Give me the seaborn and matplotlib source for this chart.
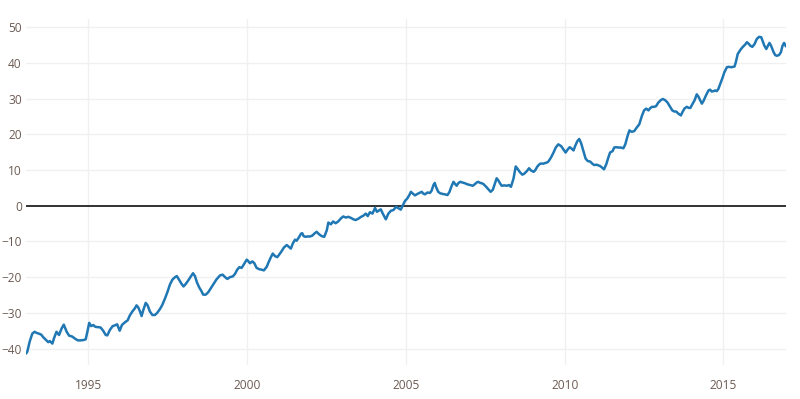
import matplotlib
matplotlib.use("Agg")
import matplotlib.pyplot as plt
import seaborn as sns
import pandas as pd

years = [
    1993.04, 1993.08, 1993.16, 1993.24, 1993.31, 1993.37, 1993.44, 1993.52, 1993.58, 1993.67,
    1993.74, 1993.79, 1993.87, 1993.93, 1994.00, 1994.08, 1994.16, 1994.23, 1994.32, 1994.40,
    1994.49, 1994.58, 1994.67, 1994.76, 1994.86, 1994.92, 1994.98, 1995.03, 1995.09, 1995.16,
    1995.22, 1995.31, 1995.39, 1995.47, 1995.55, 1995.60, 1995.68, 1995.77, 1995.84, 1995.91,
    1995.99, 1996.06, 1996.16, 1996.24, 1996.31, 1996.39, 1996.47, 1996.52, 1996.57, 1996.63,
    1996.68, 1996.73, 1996.81, 1996.87, 1996.94, 1997.02, 1997.10, 1997.17, 1997.26, 1997.33,
    1997.42, 1997.50, 1997.57, 1997.65, 1997.73, 1997.79, 1997.86, 1997.94, 1998.00, 1998.07,
    1998.15, 1998.23, 1998.30, 1998.36, 1998.42, 1998.49, 1998.57, 1998.62, 1998.70, 1998.78,
    1998.86, 1998.94, 1999.04, 1999.15, 1999.23, 1999.31, 1999.38, 1999.46, 1999.55, 1999.62,
    1999.69, 1999.76, 1999.83, 1999.88, 1999.94, 1999.99, 2000.04, 2000.09, 2000.17, 2000.23,
    2000.30, 2000.39, 2000.46, 2000.53, 2000.62, 2000.67, 2000.74, 2000.81, 2000.88, 2000.95,
    2001.02, 2001.09, 2001.16, 2001.25, 2001.33, 2001.38, 2001.44, 2001.51, 2001.56, 2001.63,
    2001.70, 2001.74, 2001.78, 2001.84, 2001.91, 2001.98, 2002.05, 2002.12, 2002.19, 2002.27,
    2002.35, 2002.43, 2002.51, 2002.56, 2002.64, 2002.71, 2002.79, 2002.87, 2002.96, 2003.03,
    2003.11, 2003.19, 2003.27, 2003.35, 2003.42, 2003.51, 2003.59, 2003.66, 2003.74, 2003.80,
    2003.87, 2003.95, 2004.03, 2004.09, 2004.16, 2004.21, 2004.28, 2004.37, 2004.45, 2004.53,
    2004.61, 2004.69, 2004.77, 2004.84, 2004.92, 2004.97, 2005.05, 2005.11, 2005.16, 2005.22,
    2005.29, 2005.36, 2005.43, 2005.50, 2005.55, 2005.60, 2005.68, 2005.76, 2005.81, 2005.87,
    2005.91, 2005.95, 2006.02, 2006.08, 2006.16, 2006.23, 2006.31, 2006.37, 2006.44, 2006.50,
    2006.55, 2006.60, 2006.65, 2006.71, 2006.79, 2006.86, 2006.94, 2007.02, 2007.11, 2007.18,
    2007.23, 2007.28, 2007.34, 2007.39, 2007.44, 2007.53, 2007.60, 2007.67, 2007.74, 2007.79,
    2007.86, 2007.92, 2007.97, 2008.02, 2008.10, 2008.18, 2008.25, 2008.31, 2008.39, 2008.46,
    2008.52, 2008.60, 2008.67, 2008.73, 2008.81, 2008.88, 2008.94, 2009.02, 2009.07, 2009.15,
    2009.23, 2009.33, 2009.44, 2009.49, 2009.57, 2009.65, 2009.72, 2009.80, 2009.89, 2009.96,
    2010.03, 2010.10, 2010.16, 2010.22, 2010.28, 2010.33, 2010.40, 2010.46, 2010.52, 2010.59,
    2010.66, 2010.73, 2010.80, 2010.87, 2010.93, 2011.01, 2011.12, 2011.19, 2011.24, 2011.31,
    2011.38, 2011.43, 2011.51, 2011.56, 2011.62, 2011.70, 2011.77, 2011.85, 2011.91, 2011.98,
    2012.04, 2012.11, 2012.19, 2012.27, 2012.35, 2012.43, 2012.50, 2012.57, 2012.64, 2012.69,
    2012.75, 2012.82, 2012.88, 2012.95, 2013.03, 2013.09, 2013.16, 2013.24, 2013.32, 2013.39,
    2013.45, 2013.51, 2013.58, 2013.66, 2013.72, 2013.78, 2013.85, 2013.91, 2013.96, 2014.00,
    2014.09, 2014.16, 2014.21, 2014.27, 2014.32, 2014.37, 2014.45, 2014.53, 2014.58, 2014.63,
    2014.69, 2014.74, 2014.79, 2014.84, 2014.90, 2014.97, 2015.03, 2015.11, 2015.16, 2015.26,
    2015.35, 2015.39, 2015.45, 2015.53, 2015.60, 2015.68, 2015.74, 2015.79, 2015.85, 2015.91,
    2015.98, 2016.05, 2016.12, 2016.19, 2016.24, 2016.29, 2016.35, 2016.40, 2016.45, 2016.50,
    2016.58, 2016.63, 2016.68, 2016.75, 2016.81, 2016.86, 2016.91, 2016.97,
]

gmsl = [
    -41.4, -40.9, -37.9, -35.8, -35.3, -35.6, -35.8, -36.1, -36.8, -37.6,
    -38.2, -37.9, -38.6, -36.9, -35.3, -36.2, -34.4, -33.3, -35.3, -36.4,
    -36.6, -37.2, -37.7, -37.7, -37.6, -37.4, -35.0, -32.8, -33.7, -33.4,
    -33.9, -34.0, -34.1, -35.0, -36.2, -36.3, -34.8, -33.7, -33.5, -33.2,
    -35.0, -33.4, -32.6, -32.1, -30.7, -29.6, -28.7, -27.9, -28.4, -29.6,
    -30.9, -29.3, -27.2, -27.9, -29.6, -30.6, -30.6, -30.0, -28.9, -27.8,
    -25.9, -24.0, -22.1, -20.7, -20.0, -19.7, -20.7, -21.9, -22.6, -21.9,
    -20.9, -19.8, -18.9, -19.7, -21.4, -22.8, -24.0, -24.9, -24.9, -24.2,
    -23.1, -22.0, -20.6, -19.5, -19.3, -20.0, -20.5, -20.0, -19.8, -19.1,
    -17.9, -17.2, -17.4, -16.7, -15.8, -15.1, -15.5, -16.1, -15.6, -16.1,
    -17.4, -17.8, -17.9, -18.1, -17.1, -16.0, -14.6, -13.4, -14.1, -14.4,
    -13.6, -12.7, -11.7, -11.0, -11.6, -12.0, -10.6, -9.5, -9.8, -8.9,
    -7.8, -7.7, -8.5, -8.7, -8.6, -8.6, -8.4, -7.8, -7.3, -8.0,
    -8.5, -8.7, -6.9, -4.7, -5.2, -4.4, -4.9, -4.4, -3.5, -3.0,
    -3.3, -3.1, -3.4, -3.8, -4.0, -3.6, -3.1, -2.8, -2.2, -2.9,
    -1.8, -2.2, -0.6, -1.7, -1.3, -1.0, -2.3, -3.8, -2.2, -1.4,
    -1.2, -0.3, -0.7, -1.1, 0.4, 1.3, 2.1, 3.0, 3.9, 3.4,
    2.9, 3.3, 3.6, 3.9, 3.4, 3.2, 3.7, 3.6, 4.2, 5.8,
    6.4, 5.3, 3.9, 3.5, 3.3, 3.2, 3.0, 3.8, 5.5, 6.7,
    6.1, 5.6, 6.3, 6.7, 6.5, 6.3, 6.0, 5.8, 5.6, 6.1,
    6.5, 6.7, 6.4, 6.3, 6.1, 5.3, 4.6, 3.9, 4.5, 5.8,
    7.7, 7.0, 6.2, 5.6, 5.7, 5.6, 5.8, 5.3, 7.6, 11.0,
    10.3, 9.3, 8.7, 9.0, 9.7, 10.5, 9.9, 9.5, 9.9, 11.1,
    11.8, 11.8, 12.1, 12.4, 13.5, 14.9, 16.3, 17.2, 16.7, 15.8,
    14.9, 15.8, 16.4, 16.0, 15.5, 16.7, 18.1, 18.7, 17.5, 15.3,
    13.2, 12.5, 12.4, 11.8, 11.4, 11.5, 11.1, 10.6, 10.2, 11.6,
    13.6, 14.9, 15.3, 16.3, 16.4, 16.3, 16.3, 16.1, 17.2, 19.5,
    21.1, 20.7, 20.9, 21.9, 22.8, 25.1, 26.7, 27.2, 26.7, 27.3,
    27.7, 27.7, 27.9, 28.9, 29.6, 29.9, 29.6, 28.9, 27.7, 26.7,
    26.4, 26.4, 25.8, 25.3, 26.4, 27.3, 27.7, 27.4, 27.4, 28.1,
    29.5, 31.2, 30.6, 29.5, 28.6, 29.3, 30.9, 32.3, 32.5, 32.0,
    32.1, 32.3, 32.1, 32.7, 34.1, 35.8, 37.4, 38.8, 38.9, 38.8,
    39.0, 40.2, 42.5, 43.6, 44.4, 45.1, 45.8, 45.4, 44.8, 44.5,
    45.3, 46.7, 47.3, 47.2, 46.0, 44.8, 43.9, 44.8, 45.6, 44.8,
    43.0, 42.2, 42.0, 42.2, 43.0, 44.8, 45.6, 44.6,
]

x_ticks = [1995, 2000, 2005, 2010, 2015]
x_labels = ["1995", "2000", "2005", "2010", "2015"]
y_ticks = [-40, -30, -20, -10, 0, 10, 20, 30, 40, 50]
y_labels = ["\u221240", "\u221230", "\u221220", "\u221210", "0", "10", "20", "30", "40", "50"]

df = pd.DataFrame({"year": years, "gmsl": gmsl})

sns.set_style("white")
plt.rcParams["font.family"] = ["Open Sans", "DejaVu Sans"]

fig = plt.figure(figsize=(8.0, 3.99), dpi=100)
ax = fig.add_axes([26 / 800, 1 - 365 / 399, 760 / 800, 346 / 399])

ax.set_axisbelow(True)
for yt in y_ticks:
    if yt != 0:
        ax.axhline(yt, color="#f0f0f0", lw=1.0, zorder=0)
for xt in x_ticks:
    ax.axvline(xt, color="#f0f0f0", lw=1.0, zorder=0)

sns.lineplot(data=df, x="year", y="gmsl", ax=ax, color="#1f77b4", lw=1.8, zorder=3)
ax.axhline(0, color="#222222", lw=1.3, zorder=2)

ax.set_xlim(min(years), max(years))
ax.set_ylim(-44.6, 52.3)
ax.set_xticks(x_ticks)
ax.set_xticklabels(x_labels)
ax.set_yticks(y_ticks)
ax.set_yticklabels(y_labels)
ax.tick_params(axis="both", length=0, labelsize=8.6, colors="#6b5a52")
ax.tick_params(axis="x", pad=10)
ax.tick_params(axis="y", pad=3)
ax.set_xlabel("")
ax.set_ylabel("")
for s in ax.spines.values():
    s.set_visible(False)
ax.grid(False)

fig.savefig("out.png", dpi=100)
